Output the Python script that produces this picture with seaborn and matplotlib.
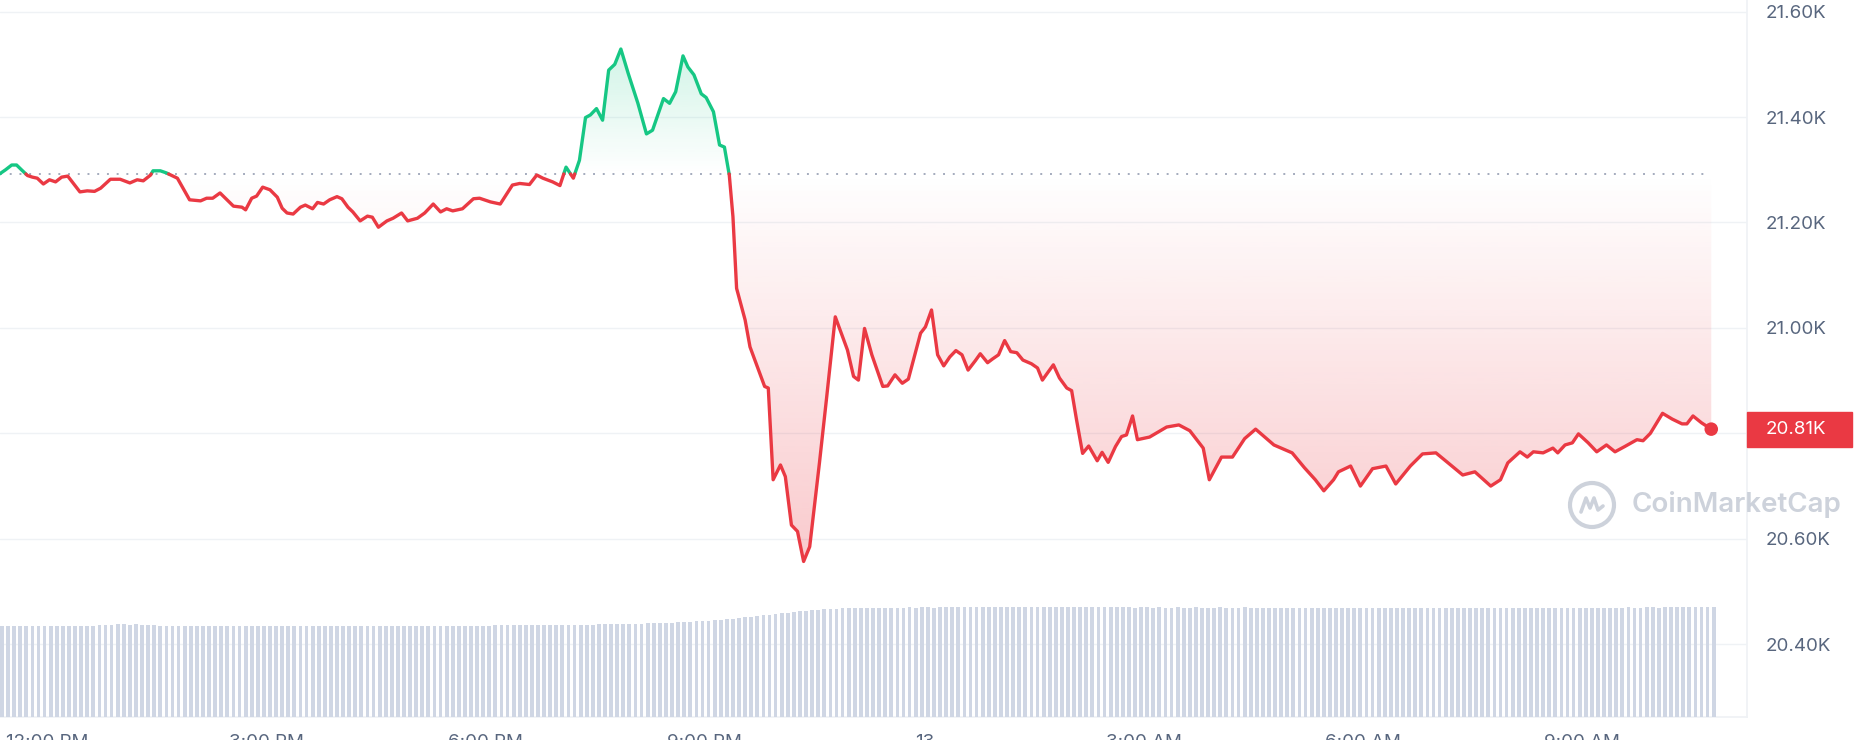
import numpy as np
import pandas as pd
import matplotlib
matplotlib.use("Agg")
import matplotlib.pyplot as plt
from matplotlib.patches import Rectangle, Ellipse
from matplotlib.lines import Line2D
from matplotlib.colors import to_rgb
import seaborn as sns

# minutes counted from 12:00 PM of day 12, price in USD
minutes = [
    -39, -34, -29, -25, -21, -16, -12, -8, -3, 2, 7, 12, 17, 27, 33, 39, 44, 52, 60, 68,
    74, 79, 85, 87, 93, 98, 107, 117, 126, 131, 136, 142, 153, 160, 163, 168, 172, 177, 183, 189,
    193, 197, 202, 208, 212, 218, 222, 227, 232, 238, 242, 247, 251, 257, 263, 267, 272, 279, 284, 291,
    296, 304, 310, 317, 323, 328, 333, 341, 350, 355, 364, 372, 382, 388, 396, 402, 407, 415, 421, 426,
    432, 437, 442, 446, 451, 456, 461, 466, 471, 477, 485, 492, 497, 506, 511, 516, 522, 526, 531, 537,
    541, 547, 552, 556, 560, 563, 566, 573, 577, 589, 592, 596, 602, 606, 611, 616, 621, 626, 634, 640,
    647, 657, 662, 666, 671, 677, 686, 690, 696, 702, 707, 717, 721, 726, 731, 736, 741, 746, 751, 756,
    762, 766, 772, 776, 781, 786, 791, 796, 801, 808, 813, 817, 821, 826, 831, 837, 841, 845, 850, 855,
    862, 866, 871, 877, 882, 886, 891, 895, 905, 919, 929, 938, 949, 954, 964, 973, 983, 992, 1007, 1022,
    1032, 1041, 1048, 1056, 1060, 1070, 1078, 1088, 1099, 1107, 1119, 1129, 1140, 1150, 1162, 1172, 1185, 1193, 1199, 1209,
    1215, 1220, 1228, 1236, 1240, 1246, 1252, 1257, 1265, 1272, 1280, 1287, 1295, 1305, 1310, 1316, 1326, 1334, 1342, 1346,
    1351, 1358, 1366,
]
prices = [
    21292, 21300, 21309, 21309, 21300, 21289, 21286, 21284, 21273, 21281, 21277, 21286, 21288, 21258, 21260, 21259, 21265, 21282, 21282, 21275,
    21281, 21279, 21290, 21298, 21298, 21294, 21284, 21243, 21241, 21246, 21246, 21256, 21231, 21229, 21224, 21246, 21250, 21267, 21262, 21248,
    21227, 21218, 21216, 21229, 21233, 21226, 21238, 21235, 21243, 21249, 21245, 21229, 21220, 21203, 21212, 21210, 21191, 21203, 21208, 21218,
    21203, 21208, 21218, 21235, 21220, 21226, 21222, 21226, 21245, 21246, 21239, 21235, 21271, 21274, 21272, 21290, 21284, 21277, 21270, 21305,
    21284, 21318, 21399, 21404, 21416, 21394, 21489, 21500, 21529, 21483, 21426, 21368, 21375, 21435, 21426, 21448, 21516, 21495, 21480, 21444,
    21437, 21410, 21347, 21343, 21290, 21211, 21075, 21015, 20964, 20889, 20886, 20712, 20740, 20718, 20626, 20614, 20557, 20585, 20744, 20870,
    21021, 20958, 20908, 20901, 20999, 20949, 20889, 20890, 20911, 20895, 20903, 20990, 21002, 21034, 20949, 20928, 20945, 20957, 20949, 20920,
    20938, 20951, 20934, 20941, 20949, 20976, 20955, 20953, 20939, 20932, 20924, 20901, 20914, 20930, 20905, 20886, 20881, 20826, 20762, 20776,
    20748, 20764, 20745, 20775, 20794, 20797, 20833, 20788, 20793, 20812, 20816, 20805, 20772, 20712, 20755, 20755, 20790, 20808, 20778, 20763,
    20735, 20712, 20691, 20712, 20727, 20738, 20700, 20733, 20738, 20704, 20738, 20761, 20763, 20744, 20721, 20727, 20700, 20712, 20744, 20765,
    20755, 20765, 20763, 20772, 20763, 20778, 20782, 20799, 20782, 20765, 20778, 20765, 20775, 20788, 20786, 20800, 20838, 20827, 20818, 20818,
    20833, 20820, 20808,
]

# 5-minute volume bars (billions), first bar at 11:23 AM
volume_bn = [
    27.3, 27.3, 27.2, 27.3, 27.3, 27.4, 27.3, 27.3, 27.2, 27.3, 27.3, 27.3, 27.4, 27.3, 27.3, 27.4, 27.6, 27.7, 27.7, 27.8,
    27.8, 27.7, 27.8, 27.7, 27.7, 27.6, 27.4, 27.3, 27.3, 27.2, 27.2, 27.3, 27.2, 27.2, 27.3, 27.2, 27.2, 27.3, 27.2, 27.2,
    27.3, 27.2, 27.2, 27.3, 27.3, 27.2, 27.2, 27.3, 27.2, 27.2, 27.3, 27.3, 27.2, 27.2, 27.3, 27.2, 27.3, 27.3, 27.2, 27.2,
    27.3, 27.2, 27.2, 27.3, 27.3, 27.2, 27.3, 27.2, 27.2, 27.3, 27.3, 27.2, 27.2, 27.3, 27.3, 27.4, 27.3, 27.3, 27.4, 27.4,
    27.4, 27.5, 27.5, 27.5, 27.6, 27.5, 27.5, 27.6, 27.6, 27.6, 27.7, 27.6, 27.6, 27.7, 27.7, 27.6, 27.7, 27.7, 27.8, 27.8,
    27.8, 27.8, 27.9, 27.9, 28.0, 28.0, 28.1, 28.1, 28.2, 28.3, 28.3, 28.4, 28.5, 28.6, 28.7, 28.8, 28.9, 29.0, 29.2, 29.3,
    29.5, 29.7, 29.9, 30.1, 30.3, 30.5, 30.7, 30.9, 31.1, 31.3, 31.5, 31.7, 31.9, 32.0, 32.2, 32.3, 32.4, 32.5, 32.6, 32.6,
    32.7, 32.7, 32.8, 32.7, 32.8, 32.8, 32.7, 32.8, 32.8, 32.9, 32.8, 32.9, 32.9, 32.8, 32.9, 32.9, 33.0, 32.9, 32.9, 33.0,
    32.9, 32.9, 33.0, 33.0, 32.9, 32.9, 33.0, 32.9, 32.9, 33.0, 33.0, 32.9, 33.0, 33.0, 32.9, 33.0, 33.0, 33.0, 32.9, 33.0,
    32.9, 32.9, 33.0, 32.9, 32.9, 32.9, 32.8, 32.9, 32.9, 32.8, 32.9, 32.8, 32.8, 32.9, 32.8, 32.8, 32.9, 32.8, 32.8, 32.8,
    32.9, 32.8, 32.8, 32.8, 32.9, 32.8, 32.8, 32.7, 32.8, 32.8, 32.7, 32.8, 32.8, 32.7, 32.7, 32.8, 32.7, 32.8, 32.8, 32.7,
    32.8, 32.8, 32.7, 32.8, 32.8, 32.8, 32.7, 32.8, 32.8, 32.8, 32.8, 32.7, 32.8, 32.8, 32.7, 32.7, 32.8, 32.7, 32.7, 32.8,
    32.7, 32.7, 32.8, 32.7, 32.7, 32.7, 32.8, 32.7, 32.6, 32.7, 32.7, 32.6, 32.7, 32.7, 32.6, 32.7, 32.7, 32.6, 32.7, 32.7,
    32.7, 32.8, 32.8, 32.7, 32.8, 32.8, 32.8, 32.9, 32.8, 32.8, 32.9, 32.9, 32.8, 32.9, 32.9, 32.9, 32.9, 32.9, 32.9, 32.9,
    32.9, 32.9,
]

tick_minutes = [0, 180, 360, 540, 720, 900, 1080, 1260]
tick_labels = ["12:00 PM", "3:00 PM", "6:00 PM", "9:00 PM", "13", "3:00 AM", "6:00 AM", "9:00 AM"]
price_ticks = [20400, 20600, 20800, 21000, 21200, 21400, 21600]

GREEN = "#16c784"
RED = "#ea3943"
TXT = "#58667e"
GRID = "#eff2f5"
BAR = "#cfd6e4"

sns.set_theme(style="white")
plt.rcParams['font.family'] = ['Inter', 'DejaVu Sans']

t = np.array(minutes, dtype=float)
p = np.array(prices, dtype=float)
base = p[0]

# add the points where the line crosses the open price, so colour can switch there
tt, pp = [t[0]], [p[0]]
for i in range(1, len(t)):
    d0, d1 = p[i - 1] - base, p[i] - base
    if d0 * d1 < 0:
        f = d0 / (d0 - d1)
        tt.append(t[i - 1] + f * (t[i] - t[i - 1]))
        pp.append(base)
    tt.append(t[i])
    pp.append(p[i])
tt = np.array(tt)
pp = np.array(pp)

rows = []
seg = 0
prev = None
for i in range(len(tt) - 1):
    side = 'up' if (pp[i] + pp[i + 1]) / 2 >= base else 'down'
    if side != prev:
        seg += 1
        rows.append((tt[i], pp[i], side, seg))
        prev = side
    rows.append((tt[i + 1], pp[i + 1], side, seg))
df = pd.DataFrame(rows, columns=['t', 'price', 'side', 'seg'])

fig = plt.figure(figsize=(18.58, 7.40), dpi=100)
ax = fig.add_axes([0, 0.0311, 0.9403, 0.9689])


def gradient_fill(ax, lower, upper, color, y0, y1, a0, a1):
    poly = ax.fill_between(tt, lower, upper, facecolor='none', edgecolor='none')
    path = poly.get_paths()[0]
    poly.remove()
    img = np.zeros((256, 1, 4))
    img[:, 0, :3] = to_rgb(color)
    img[:, 0, 3] = np.linspace(a0, a1, 256)
    im = ax.imshow(img, extent=[tt.min(), tt.max(), y0, y1], origin='lower',
                   aspect='auto', interpolation='bilinear', zorder=1)
    im.set_clip_path(path, transform=ax.transData)


gradient_fill(ax, np.minimum(pp, base), base, RED, 20550, base, 0.27, 0.0)
gradient_fill(ax, base, np.maximum(pp, base), GREEN, base, 21530, 0.0, 0.2)

ax.hlines(base, t[0], t[-1], colors="#a4abbd", linestyles=(0, (1, 4)), lw=1.4, zorder=1.5)

sns.lineplot(data=df, x='t', y='price', hue='side', units='seg', estimator=None,
             palette={'up': GREEN, 'down': RED}, lw=2.4, sort=False, legend=False,
             ax=ax, zorder=3, solid_joinstyle='round', solid_capstyle='round')
sns.scatterplot(x=[t[-1]], y=[p[-1]], color=RED, s=95, edgecolor='none', ax=ax, zorder=4)

# volume bars on a twin axis
axv = ax.twinx()
bar_minutes = -37 + 5 * np.arange(len(volume_bn))
sns.barplot(x=bar_minutes, y=volume_bn, native_scale=True, width=0.62, color=BAR,
            saturation=1, linewidth=0, errorbar=None, ax=axv)
axv.set_ylim(0, 215)
axv.set_yticks([])
axv.set_ylabel('')
for s in axv.spines.values():
    s.set_visible(False)

last = p[-1]
ax.set_xlim(-38.6, 1395.4)
ax.set_ylim(20262, 21622)
ax.yaxis.tick_right()
ax.set_yticks(price_ticks)
# the tick hidden behind the last-price tag is left blank
ax.set_yticklabels(["" if abs(v - last) < 60 else f"{v / 1000:.2f}K" for v in price_ticks])
ax.set_xticks(tick_minutes)
ax.set_xticklabels(tick_labels)
ax.tick_params(axis='y', length=0, pad=13.7, labelsize=13.5, labelcolor=TXT)
ax.tick_params(axis='x', length=0, pad=12, labelsize=13.5, labelcolor=TXT)
ax.set_xlabel('')
ax.set_ylabel('')
ax.grid(True, axis='y', color=GRID, lw=1)
ax.grid(False, axis='x')
ax.set_axisbelow(True)
ax.spines['top'].set_visible(False)
ax.spines['left'].set_visible(False)
ax.spines['right'].set_color(GRID)
ax.spines['bottom'].set_color(GRID)

# last price tag
trans = ax.get_yaxis_transform()
ax.add_patch(Rectangle((1.0, last - 33), 0.0601, 66, transform=trans, color=RED,
                       clip_on=False, zorder=6))
ax.text(1.0108, last, f"{last / 1000:.2f}K", transform=trans, color='white',
        va='center', ha='left', fontsize=13.5, zorder=7)

# watermark
cx, cy = 1592 / 1858, (740 - 505) / 740
fig.add_artist(Ellipse((cx, cy), 44 / 1858, 44 / 740, transform=fig.transFigure,
                       fill=False, edgecolor="#cdd2db", lw=3))
mx = [-11, -6, -2, 2, 6, 11]
my = [-7, 7, -3, 7, -5, -1]
fig.add_artist(Line2D([cx + v / 1858 for v in mx], [cy + v / 740 for v in my],
                      transform=fig.transFigure, color="#cdd2db", lw=2.6,
                      solid_joinstyle='round', solid_capstyle='round'))
fig.text(1632 / 1858, cy, "CoinMarketCap", ha='left', va='center', fontsize=20,
         fontweight='semibold', color="#cdd2db")

fig.savefig("out.png", dpi=100)
